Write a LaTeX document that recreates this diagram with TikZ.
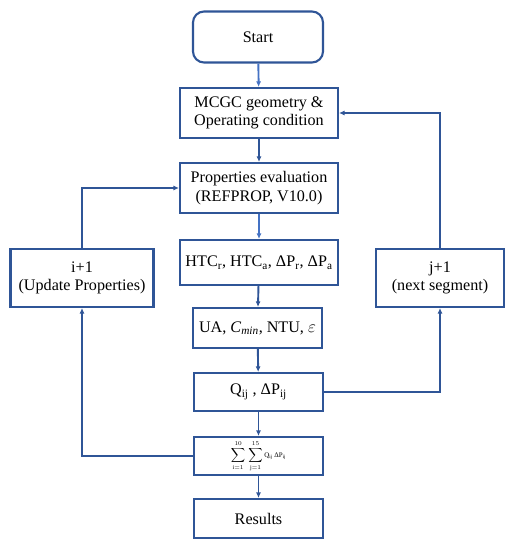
\documentclass[tikz,border=0pt]{standalone}
\usepackage{fontspec}
\setmainfont{Liberation Serif}
\usetikzlibrary{arrows.meta}
\definecolor{boxblue}{HTML}{2F5597}
\definecolor{lightblue}{HTML}{4472C4}
\begin{document}
\begin{tikzpicture}[x=1bp, y=-1bp,
  every node/.style={font=\fontsize{16.2}{18.5}\selectfont, align=center, inner sep=2pt},
  stepbox/.style={draw=boxblue, line width=2.1bp, fill=white},
  arr/.style={-{Latex[length=5.5bp,width=5bp]}, draw=boxblue, line width=1.9bp},
  larr/.style={arr, draw=lightblue}]
\useasboundingbox (0,0) rectangle (513,550);

% Main column
\node[stepbox, rounded corners=11bp, minimum width=130bp, minimum height=51bp] (start) at (258,37) {Start};
\node[stepbox, minimum width=158bp, minimum height=50bp] (geom) at (259,113) {MCGC geometry \&\\Operating condition};
\node[stepbox, minimum width=158bp, minimum height=50bp] (prop) at (259,188) {Properties evaluation\\(REFPROP, V10.0)};
\node[stepbox, minimum width=158bp, minimum height=45bp] (htc) at (259,262.5) {HTC\textsubscript{r}, HTC\textsubscript{a}, ΔP\textsubscript{r}, ΔP\textsubscript{a}};
\node[stepbox, minimum width=129bp, minimum height=40bp] (ntu) at (257.5,328) {UA, \textit{C}\textsubscript{\textit{min}}, NTU, $\varepsilon$};
\node[stepbox, minimum width=129bp, minimum height=38bp] (qij) at (258.5,392) {Q\textsubscript{ij} , ΔP\textsubscript{ij}};
\node[stepbox, minimum width=129bp, minimum height=38bp] (sum) at (258.5,456) {\fontsize{9}{10}\selectfont$\displaystyle\sum_{\mathrm{i}=1}^{10}\,\sum_{\mathrm{j}=1}^{15}$\,{\fontsize{7}{8}\selectfont Q\textsubscript{ij} ΔP\textsubscript{ij}}};
\node[stepbox, minimum width=129bp, minimum height=39bp] (res) at (258.5,518.5) {Results};

% Loop boxes
\node[stepbox, minimum width=143bp, minimum height=58bp] (upd) at (82,278) {i+1\\(Update Properties)};
\node[stepbox, minimum width=128bp, minimum height=58bp] (seg) at (440,278) {j+1\\(next segment)};

% Flow arrows
\draw[larr] (start) -- (geom);
\draw[arr] (geom) -- (prop);
\draw[larr] (prop) -- (htc);
\draw[arr] (htc) -- (ntu);
\draw[arr] (ntu) -- (qij);
\draw[arr] (qij) -- (sum);
\draw[arr] (sum) -- (res);

% Feedback loops
\draw[arr] (sum.west) -| (upd.south);
\draw[arr] (upd.north) |- (prop.west);
\draw[arr] (qij.east) -| (seg.south);
\draw[arr] (seg.north) |- (geom.east);

\end{tikzpicture}
\end{document}
